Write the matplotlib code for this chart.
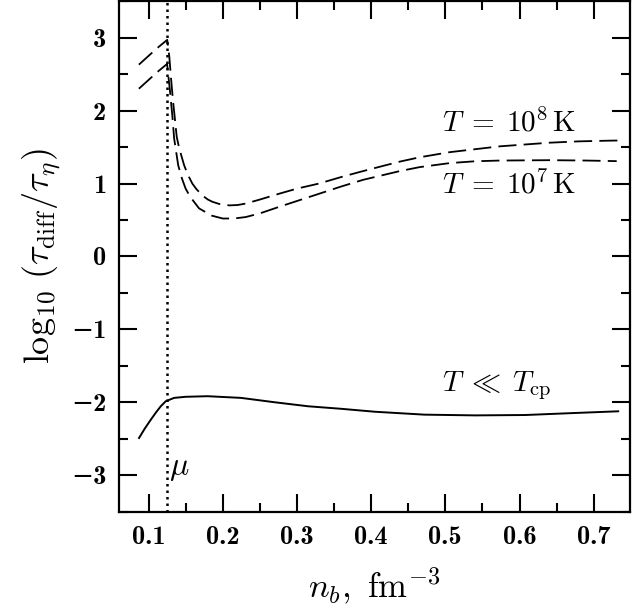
import numpy as np
import matplotlib
matplotlib.use("Agg")
import matplotlib.pyplot as plt
from matplotlib.ticker import MultipleLocator, FuncFormatter

plt.rcParams['mathtext.fontset'] = 'cm'
plt.rcParams['font.family'] = 'serif'
plt.rcParams['font.serif'] = ['DejaVu Serif']

# T = 10^8 K (upper dashed)
nb_hot = [0.087, 0.100, 0.112, 0.1252, 0.128, 0.1305, 0.133, 0.1354, 0.138, 0.141, 0.144,
          0.148, 0.153, 0.159, 0.164, 0.172, 0.180, 0.186, 0.195, 0.209, 0.220, 0.231,
          0.250, 0.276, 0.300, 0.330, 0.360, 0.389, 0.4155, 0.4385, 0.4655, 0.506,
          0.5736, 0.641, 0.680, 0.722, 0.735]
tau_hot = [2.63, 2.75, 2.86, 2.97, 2.74, 2.42, 2.13, 1.90, 1.64, 1.50, 1.39,
           1.25, 1.12, 1.00, 0.93, 0.84, 0.78, 0.75, 0.72, 0.70, 0.705, 0.725,
           0.78, 0.86, 0.93, 1.00, 1.09, 1.17, 1.24, 1.30, 1.36, 1.43,
           1.51, 1.56, 1.578, 1.588, 1.59]

# T = 10^7 K (lower dashed)
nb_cold = [0.087, 0.100, 0.112, 0.125, 0.1286, 0.132, 0.1345, 0.137, 0.140, 0.145,
           0.150, 0.156, 0.168, 0.185, 0.200, 0.215, 0.231, 0.250, 0.276, 0.300,
           0.330, 0.360, 0.389, 0.4385, 0.4655, 0.506, 0.540, 0.5736, 0.641, 0.690, 0.731]
tau_cold = [2.30, 2.42, 2.53, 2.64, 2.30, 1.94, 1.62, 1.45, 1.25, 1.07,
            0.93, 0.82, 0.66, 0.56, 0.52, 0.52, 0.54, 0.59, 0.68, 0.76,
            0.86, 0.96, 1.05, 1.17, 1.225, 1.28, 1.305, 1.315, 1.32, 1.315, 1.307]

# T << T_cp (solid)
nb_cp = [0.0872, 0.095, 0.103, 0.110, 0.1165, 0.1232, 0.1345, 0.150, 0.1795, 0.2246,
         0.270, 0.315, 0.360, 0.405, 0.472, 0.540, 0.6074, 0.675, 0.733]
tau_cp = [-2.49, -2.36, -2.24, -2.14, -2.055, -1.986, -1.94, -1.925, -1.917, -1.94,
          -2.00, -2.055, -2.09, -2.13, -2.17, -2.18, -2.175, -2.147, -2.124]

nb_mu = 0.1248

fig = plt.figure(figsize=(6.39, 6.12), dpi=100)
ax = fig.add_axes([0.186, 0.164, 0.800, 0.834])

dash = (0, (10, 4))
ax.plot(nb_hot, tau_hot, color='black', lw=1.3, linestyle=dash)
ax.plot(nb_cold, tau_cold, color='black', lw=1.3, linestyle=dash)
ax.plot(nb_cp, tau_cp, color='black', lw=1.4)
ax.axvline(nb_mu, color='black', lw=1.8, linestyle=(0, (1, 1.6)))

ax.set_xlim(0.06, 0.749)
ax.set_ylim(-3.5, 3.5)

fs_txt = 21
ax.text(0.496, 1.83, r'$T\;=\;10^8\,\mathrm{K}$', fontsize=fs_txt, ha='left', va='center')
ax.text(0.496, 0.98, r'$T\;=\;10^7\,\mathrm{K}$', fontsize=fs_txt, ha='left', va='center')
ax.text(0.496, -1.77, r'$T\;\ll\;T_{\rm cp}$', fontsize=fs_txt, ha='left', va='center')
ax.text(0.127, -2.89, r'$\mu$', fontsize=23, ha='left', va='center')

ax.xaxis.set_major_locator(MultipleLocator(0.1))
ax.xaxis.set_minor_locator(MultipleLocator(0.05))
ax.yaxis.set_major_locator(MultipleLocator(1))
ax.yaxis.set_minor_locator(MultipleLocator(0.5))

def fmt_y(v, pos):
    n = int(round(v))
    if n < 0:
        return '\u2212%d' % abs(n)
    return '%d' % n

ax.xaxis.set_major_formatter(FuncFormatter(lambda v, pos: '%.1f' % v))
ax.yaxis.set_major_formatter(FuncFormatter(fmt_y))

ax.tick_params(which='both', direction='in', top=True, right=True, width=1.5, labelsize=19)
ax.tick_params(which='major', length=13)
ax.tick_params(which='minor', length=6.5)
ax.tick_params(axis='x', pad=10)
ax.tick_params(axis='y', pad=9)
for lab in ax.get_xticklabels() + ax.get_yticklabels():
    lab.set_family(['cmb10', 'DejaVu Serif'])
for s in ax.spines.values():
    s.set_linewidth(1.6)

ax.set_xlabel(r'$n_b,\ \mathrm{fm}^{-3}$', fontsize=25, labelpad=12)
ax.set_ylabel(r'$\log_{10}\,(\tau_{\rm diff}/\tau_\eta)$', fontsize=26, labelpad=6)

fig.savefig('out.png', dpi=100)
